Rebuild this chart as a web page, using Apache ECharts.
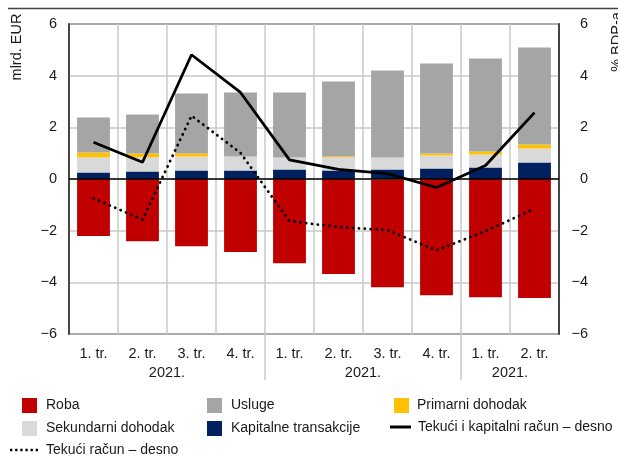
<!DOCTYPE html>
<html>
<head>
<meta charset="utf-8">
<script src="https://cdn.jsdelivr.net/npm/echarts@6/dist/echarts.min.js"></script>
<style>
  html, body { margin: 0; padding: 0; background: #fff; }
  #chart { width: 618px; height: 459px; }
</style>
</head>
<body>
<div id="chart"></div>
<script>
// Quarterly categories and the year groups beneath them
const quarters = ['1. tr.', '2. tr.', '3. tr.', '4. tr.', '1. tr.', '2. tr.', '3. tr.', '4. tr.', '1. tr.', '2. tr.'];
const yearLabels = ['2021.', '2021.', '2021.'];
const yearFirstIdx = [0, 4, 8];
const yearLastIdx = [3, 7, 9];

// Balance components, billion EUR (left axis)
const roba = [-2.21, -2.41, -2.60, -2.83, -3.26, -3.68, -4.15, -4.50, -4.58, -4.61];
const usluge = [1.35, 1.51, 2.32, 2.48, 2.52, 2.90, 3.37, 3.48, 3.60, 3.75];
const primarni = [0.19, 0.15, 0.12, 0.00, 0.00, 0.04, -0.04, 0.08, 0.11, 0.16];
const sekundarni = [0.59, 0.55, 0.54, 0.54, 0.46, 0.50, 0.46, 0.50, 0.50, 0.54];
const kapitalne = [0.25, 0.29, 0.33, 0.33, 0.37, 0.33, 0.37, 0.41, 0.45, 0.64];

// Balances as % of GDP (right axis)
const tekuciKapitalni = [1.42, 0.65, 4.81, 3.35, 0.74, 0.37, 0.21, -0.33, 0.52, 2.57];
const tekuci = [-0.75, -1.57, 2.45, 1.01, -1.63, -1.86, -1.98, -2.76, -2.02, -1.15];

// Axis ticks
const axisMin = -6, axisMax = 6, axisStep = 2;

const FONT = "'Liberation Sans', Arial, sans-serif";
const TXT = '#1a1a1a';
const GRID = '#c8c8c8';
const TICK_SIZE = 14.5;
const LEG_SIZE = 14;

const minusFmt = v => (v < 0 ? '\u2212' + Math.abs(v) : String(v));

// Legend glyphs for the two lines: a solid bar and a row of dots
const ICON_SOLID = 'rect';
const ICON_DOTS = 'path://M0,0h1v1h-1zM2.2,0h1v1h-1zM4.4,0h1v1h-1zM6.6,0h1v1h-1zM8.8,0h1v1h-1zM11,0h1v1h-1z';

const chart = echarts.init(document.getElementById('chart'), null, { renderer: 'canvas' });

function legendAt(name, left, top, icon, w, h, gap) {
  return {
    data: [name], left: left, top: top, padding: 0, orient: 'horizontal',
    icon: icon, itemWidth: w, itemHeight: h, selectedMode: false,
    textStyle: { fontFamily: FONT, fontSize: LEG_SIZE, color: TXT, padding: [0, 0, 0, gap] }
  };
}

const barBase = { type: 'bar', stack: 'bal', barWidth: '67%', yAxisIndex: 0 };

chart.setOption({
  animation: false,
  textStyle: { fontFamily: FONT },
  grid: { left: 69, right: 59, top: 24, bottom: 125, show: true, borderColor: '#222', borderWidth: 1.5 },
  legend: [
    legendAt('Roba', 22, 398, 'rect', 15, 15, 4),
    legendAt('Usluge', 207, 398, 'rect', 15, 15, 4),
    legendAt('Primarni dohodak', 394, 398, 'rect', 15, 15, 3),
    legendAt('Sekundarni dohodak', 22, 421, 'rect', 15, 15, 4),
    legendAt('Kapitalne transakcije', 207, 421, 'rect', 15, 15, 4),
    legendAt('Tekući i kapitalni račun – desno', 390, 420, ICON_SOLID, 21, 3, 2),
    legendAt('Tekući račun – desno', 10, 443, ICON_DOTS, 28, 2.5, 3)
  ],
  xAxis: {
    type: 'category', data: quarters, boundaryGap: true,
    axisLine: { show: false }, axisTick: { show: false },
    axisLabel: { fontFamily: FONT, fontSize: TICK_SIZE, color: TXT, margin: 12, interval: 0 },
    splitLine: { show: true, interval: 0, lineStyle: { color: GRID, width: 1.5 } }
  },
  yAxis: [
    {
      type: 'value', min: axisMin, max: axisMax, interval: axisStep,
      axisLine: { show: true, lineStyle: { color: '#222', width: 1.5 } },
      axisTick: { show: false },
      axisLabel: { fontFamily: FONT, fontSize: TICK_SIZE, color: TXT, margin: 12, formatter: minusFmt },
      splitLine: { show: true, lineStyle: { color: GRID, width: 1.5 } }
    },
    {
      type: 'value', min: axisMin, max: axisMax, interval: axisStep, position: 'right',
      axisLine: { show: true, lineStyle: { color: '#222', width: 1.5 } },
      axisTick: { show: false },
      axisLabel: { fontFamily: FONT, fontSize: TICK_SIZE, color: TXT, margin: 29, align: 'right', formatter: minusFmt },
      splitLine: { show: false }
    }
  ],
  series: [
    Object.assign({}, barBase, { name: 'Kapitalne transakcije', data: kapitalne, itemStyle: { color: '#002060' },
      markLine: { silent: true, symbol: 'none', label: { show: false },
        lineStyle: { color: '#000', width: 1.5, type: 'solid' }, data: [{ yAxis: 0 }] } }),
    Object.assign({}, barBase, { name: 'Sekundarni dohodak', data: sekundarni, itemStyle: { color: '#d9d9d9' } }),
    Object.assign({}, barBase, { name: 'Primarni dohodak', data: primarni, itemStyle: { color: '#ffc000' } }),
    Object.assign({}, barBase, { name: 'Usluge', data: usluge, itemStyle: { color: '#a5a5a5' } }),
    Object.assign({}, barBase, { name: 'Roba', data: roba, itemStyle: { color: '#c00000' } }),
    {
      type: 'line', name: 'Tekući i kapitalni račun – desno', yAxisIndex: 1, data: tekuciKapitalni,
      symbol: 'none', z: 5, lineStyle: { color: '#000', width: 2.8 }, itemStyle: { color: '#000' }
    },
    {
      type: 'line', name: 'Tekući račun – desno', yAxisIndex: 1, data: tekuci,
      symbol: 'none', z: 5, lineStyle: { color: '#000', width: 2.8, type: [0.1, 5.8], cap: 'round' },
      itemStyle: { color: '#000' }
    }
  ]
});

// Year separators, year labels, axis titles and the top rule
function buildDecor() {
  const cx = i => chart.convertToPixel({ xAxisIndex: 0 }, i);
  const step = cx(1) - cx(0);
  const yBottom = chart.convertToPixel({ yAxisIndex: 0 }, axisMin);
  const els = [];
  for (let k = 0; k < yearLabels.length; k++) {
    const x0 = cx(yearFirstIdx[k]) - step / 2;
    const x1 = cx(yearLastIdx[k]) + step / 2;
    els.push({
      type: 'text', x: (x0 + x1) / 2, y: yBottom + 39,
      style: { text: yearLabels[k], font: TICK_SIZE + 'px ' + FONT, fill: TXT, align: 'center', verticalAlign: 'middle' }
    });
    if (k > 0) {
      els.push({
        type: 'line', shape: { x1: x0, y1: yBottom, x2: x0, y2: yBottom + 46 },
        style: { stroke: GRID, lineWidth: 1.5 }
      });
    }
  }
  els.push({
    type: 'line', shape: { x1: 8, y1: 8.5, x2: 618, y2: 8.5 },
    style: { stroke: '#444', lineWidth: 1.5 }
  });
  els.push({
    type: 'text', x: 17, y: 47, rotation: Math.PI / 2,
    style: { text: 'mlrd. EUR', font: TICK_SIZE + 'px ' + FONT, fill: TXT, align: 'center', verticalAlign: 'middle' }
  });
  els.push({
    type: 'text', x: 617, y: 42, rotation: Math.PI / 2,
    style: { text: '% BDP-a', font: TICK_SIZE + 'px ' + FONT, fill: TXT, align: 'center', verticalAlign: 'middle' }
  });
  chart.setOption({ graphic: { elements: els } });
}
buildDecor();
</script>
</body>
</html>
